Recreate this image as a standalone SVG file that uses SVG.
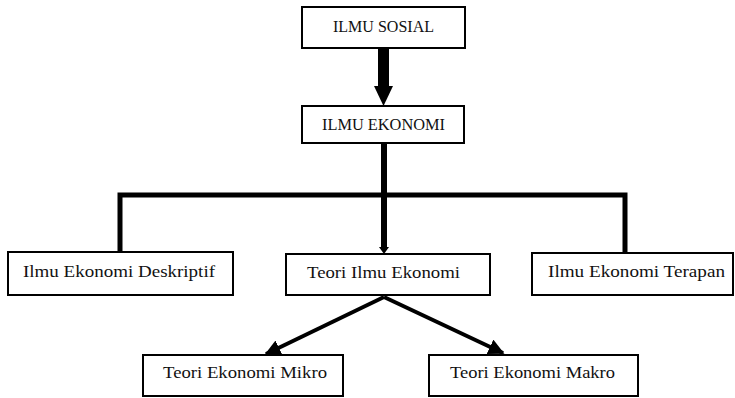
<svg xmlns="http://www.w3.org/2000/svg" width="735" height="398" viewBox="0 0 735 398">
<style>
.box{fill:#fff;stroke:#000;stroke-width:2}
.t{font-family:"Liberation Serif","DejaVu Serif",serif;font-size:16px;fill:#111;text-anchor:start}
.c{fill:none;stroke:#000;stroke-linecap:butt;stroke-linejoin:miter}
</style>
<defs>
<marker id="ah" viewBox="0 0 10 10" refX="9" refY="5" markerWidth="4" markerHeight="4" orient="auto" markerUnits="strokeWidth">
<path d="M0,0 L10,5 L0,10 z" fill="#000"/>
</marker>
</defs>
<rect width="735" height="398" fill="#fff"/>
<g id="connectors">
<rect x="378" y="48" width="11" height="40" fill="#000"/>
<path d="M374,86 L393,86 L383.5,106 z" fill="#000"/>
<path class="c" d="M384,143 V250" stroke-width="6"/>
<path d="M379,247 L389,247 L384,254 z" fill="#000"/>
<path class="c" d="M120,252 V195 H625 V253" stroke-width="5"/>
<line class="c" x1="384" y1="297" x2="266" y2="354" stroke-width="4" marker-end="url(#ah)"/>
<line class="c" x1="384" y1="297" x2="503" y2="353" stroke-width="4" marker-end="url(#ah)"/>
</g>
<g id="ilmu-sosial">
<rect class="box" x="302" y="7" width="163" height="41"/>
<text class="t" x="333" y="32" textLength="101" lengthAdjust="spacingAndGlyphs">ILMU SOSIAL</text>
</g>
<g id="ilmu-ekonomi">
<rect class="box" x="302" y="106" width="162" height="37"/>
<text class="t" x="322" y="130" textLength="123" lengthAdjust="spacingAndGlyphs">ILMU EKONOMI</text>
</g>
<g id="deskriptif">
<rect class="box" x="8" y="252" width="225" height="43"/>
<text class="t" x="23" y="277" textLength="192" lengthAdjust="spacingAndGlyphs">Ilmu Ekonomi Deskriptif</text>
</g>
<g id="teori-ilmu">
<rect class="box" x="286" y="254" width="204" height="41"/>
<text class="t" x="307" y="278" textLength="153" lengthAdjust="spacingAndGlyphs">Teori Ilmu Ekonomi</text>
</g>
<g id="terapan">
<rect class="box" x="532" y="253" width="201" height="42"/>
<text class="t" x="548" y="277" textLength="177" lengthAdjust="spacingAndGlyphs">Ilmu Ekonomi Terapan</text>
</g>
<g id="mikro">
<rect class="box" x="143" y="355" width="200" height="41"/>
<text class="t" x="163" y="378" textLength="164" lengthAdjust="spacingAndGlyphs">Teori Ekonomi Mikro</text>
</g>
<g id="makro">
<rect class="box" x="429" y="355" width="209" height="41"/>
<text class="t" x="450" y="378" textLength="165" lengthAdjust="spacingAndGlyphs">Teori Ekonomi Makro</text>
</g>
</svg>
